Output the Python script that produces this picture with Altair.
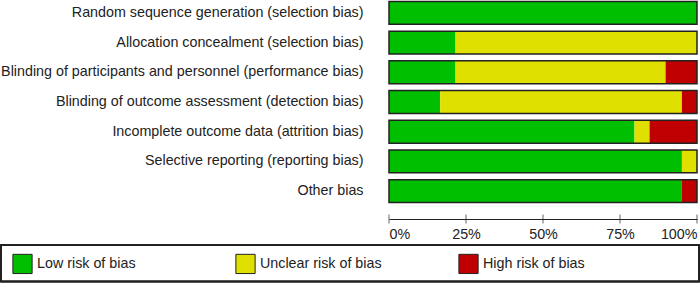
import altair as alt
import pandas as pd

# Risk-of-bias domains (one row per domain), percentages of included studies
domains = [
    "Random sequence generation (selection bias)",
    "Allocation concealment (selection bias)",
    "Blinding of participants and personnel (performance bias)",
    "Blinding of outcome assessment (detection bias)",
    "Incomplete outcome data (attrition bias)",
    "Selective reporting (reporting bias)",
    "Other bias",
]
low_risk = [100.0, 21.6, 21.6, 16.6, 79.7, 95.1, 95.1]
unclear_risk = [0.0, 78.4, 68.2, 78.5, 4.9, 4.9, 0.0]
high_risk = [0.0, 0.0, 10.2, 4.9, 15.4, 0.0, 4.9]

judgements = ["Low risk of bias", "Unclear risk of bias", "High risk of bias"]
colours = ["#00BF00", "#DFDF00", "#C00000"]
ticks = [0, 25, 50, 75, 100]

FONT = "Liberation Sans"
FS = 14.3
INK = "#222222"

rows = []
for i, d in enumerate(domains):
    for k, (j, vals) in enumerate(zip(judgements, [low_risk, unclear_risk, high_risk])):
        rows.append({"domain": d, "judgement": j, "order": k, "pct": vals[i]})
df = pd.DataFrame(rows)
tick_df = pd.DataFrame({"pct": ticks})

y_enc = alt.Y(
    "domain:N",
    sort=domains,
    scale=alt.Scale(paddingInner=0.23, paddingOuter=0.05),
    axis=alt.Axis(
        title=None, domain=False, ticks=False, labelPadding=26, labelLimit=420,
        labelFontSize=FS, labelFont=FONT, labelColor=INK,
    ),
)
x_scale = alt.Scale(domain=[0, 100], nice=False)

segments = alt.Chart(df).mark_bar(stroke=None).encode(
    x=alt.X(
        "pct:Q",
        stack="zero",
        scale=x_scale,
        axis=alt.Axis(
            title=None, values=ticks, format=".0f", labelExpr="datum.label + '%'",
            labelFlush=True, ticks=False, grid=False, domainColor=INK, domainWidth=1,
            offset=15, labelPadding=8, labelFontSize=FS, labelFont=FONT, labelColor=INK,
        ),
    ),
    y=y_enc,
    color=alt.Color(
        "judgement:N",
        scale=alt.Scale(domain=judgements, range=colours),
        legend=alt.Legend(
            title=None, orient="none", direction="horizontal", legendX=-377, legendY=253,
            symbolType="square", symbolSize=370, symbolStrokeColor=INK, symbolStrokeWidth=1,
            labelFontSize=FS, labelFont=FONT, labelColor=INK, labelOffset=4,
            columnPadding=74, gridAlign="all", padding=0,
        ),
    ),
    order=alt.Order("order:Q"),
)

# Outline round each complete bar
outline = alt.Chart(df).mark_bar(filled=False, stroke=INK, strokeWidth=1.5).encode(
    x=alt.X("sum(pct):Q", scale=x_scale),
    y=y_enc,
)

# Axis ticks crossing the axis line
axis_ticks = alt.Chart(tick_df).mark_tick(color=INK, thickness=1, size=9).encode(
    x=alt.X("pct:Q", scale=x_scale),
    y=alt.value(219),
)

# Frame round the legend
legend_frame = alt.Chart(tick_df).mark_rect(fill=None, stroke=INK, strokeWidth=1.5).encode(
    x=alt.value(-388), x2=alt.value(310), y=alt.value(245), y2=alt.value(281.5),
)

chart = alt.layer(segments, outline, axis_ticks, legend_frame).properties(
    width=308,
    height=204,
    autosize=alt.AutoSizeParams(type="none"),
    padding={"left": 389, "top": 0, "right": 3, "bottom": 79},
    background="white",
).configure_view(stroke=None)

chart.save("out.html", embed_options={"renderer": "svg", "actions": False})
